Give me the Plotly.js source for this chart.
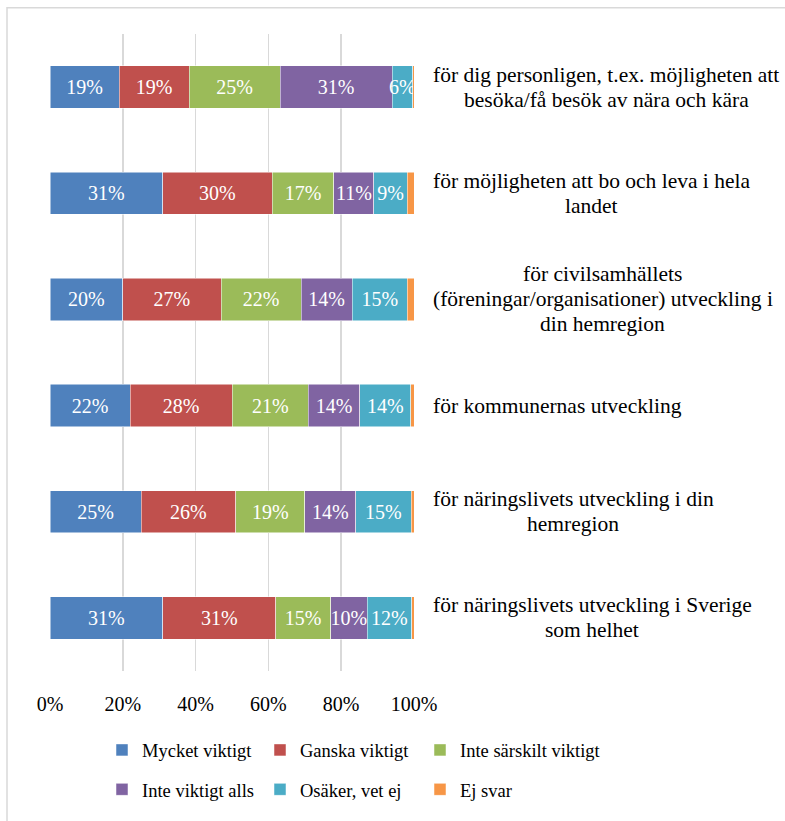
<!DOCTYPE html>
<html>
<head>
<meta charset="utf-8">
<script src="https://cdn.plot.ly/plotly-3.0.1.min.js"></script>
<style>html,body{margin:0;padding:0;background:#fff;}#chart{width:785px;height:821px;}</style>
</head>
<body>
<div id="chart"></div>
<script>
var categoryLines = [
  ["för dig personligen, t.ex. möjligheten att", "besöka/få besök av nära och kära"],
  ["för möjligheten att bo och leva i hela", "landet"],
  ["för civilsamhällets", "(föreningar/organisationer) utveckling i", "din hemregion"],
  ["för kommunernas utveckling"],
  ["för näringslivets utveckling i din", "hemregion"],
  ["för näringslivets utveckling i Sverige", "som helhet"]
];
var seriesNames = ["Mycket viktigt", "Ganska viktigt", "Inte särskilt viktigt", "Inte viktigt alls", "Osäker, vet ej", "Ej svar"];
var mycketViktigt     = [19.0, 31.0, 20.0, 22.0, 25.0, 31.0];
var ganskaViktigt     = [19.2, 30.0, 27.0, 28.0, 26.0, 31.0];
var inteSarskilt      = [25.0, 17.0, 22.0, 21.0, 19.0, 15.1];
var inteViktigtAlls   = [30.8, 11.0, 14.0, 14.1, 14.0, 10.0];
var osakerVetEj       = [5.6, 9.1, 15.2, 14.0, 15.2, 12.3];
var ejSvar            = [0.4, 1.9, 1.8, 0.9, 0.8, 0.6];
var xTickVals = [0, 20, 40, 60, 80, 100];
var xTickText = ["0%", "20%", "40%", "60%", "80%", "100%"];

var categories = categoryLines.map(function (l) { return l.join(" "); });
var colors = ["#4F81BD", "#C0504D", "#9BBB59", "#8064A2", "#4BACC6", "#F79646"];
var series = [mycketViktigt, ganskaViktigt, inteSarskilt, inteViktigtAlls, osakerVetEj, ejSvar];
var FONT = "Liberation Serif";
var BAR_FS = 20;
var TICK_FS = 20;
var LEGEND_FS = 18.5;
var LABEL_FS = 21.5;
var LINE_H = 25;
var legendIds = ["legend", "legend2", "legend3", "legend4", "legend5", "legend6"];
var legendLeft = [102, 260, 420, 102, 260, 420];
var legendRowY = [760, 760, 760, 800, 800, 800];

var traces = series.map(function (vals, i) {
  return {
    type: "bar",
    orientation: "h",
    name: seriesNames[i],
    x: vals,
    y: categories,
    width: 0.4,
    marker: { color: colors[i], line: { color: "#ffffff", width: 0.5 } },
    text: i < 5 ? vals.map(function (v) { return Math.round(v) + "%"; }) : null,
    textposition: i < 5 ? "inside" : "none",
    insidetextanchor: "middle",
    textangle: 0,
    constraintext: "none",
    textfont: { family: FONT, size: BAR_FS, color: "#ffffff" },
    legend: legendIds[i],
    hoverinfo: "x+name"
  };
});

var ctx = document.createElement("canvas").getContext("2d");
ctx.font = LABEL_FS + "px 'Liberation Serif'";
var annotations = [];
categoryLines.forEach(function (lines, ci) {
  var maxW = Math.max.apply(null, lines.map(function (t) { return ctx.measureText(t).width; }));
  var cx = 433 + maxW / 2;
  lines.forEach(function (t, k) {
    annotations.push({
      xref: "paper", yref: "y",
      x: (cx - 50) / 364, y: categories[ci],
      xanchor: "center", yanchor: "middle",
      yshift: ((lines.length - 1) / 2 - k) * LINE_H,
      text: t, showarrow: false,
      font: { family: FONT, size: LABEL_FS, color: "#000000" }
    });
  });
});

var layout = {
  width: 785, height: 821,
  margin: { l: 50, r: 371, t: 33.5, b: 141.5 },
  paper_bgcolor: "#ffffff", plot_bgcolor: "#ffffff",
  barmode: "stack",
  font: { family: FONT, size: TICK_FS, color: "#000000" },
  xaxis: {
    range: [0, 100], tickvals: xTickVals, ticktext: xTickText,
    showgrid: true, gridcolor: "#d9d9d9", gridwidth: 1.5,
    zeroline: false, showline: false, ticks: "",
    ticklabelstandoff: 19,
    tickfont: { family: FONT, size: TICK_FS, color: "#000000" },
    fixedrange: true
  },
  yaxis: {
    type: "category", autorange: "reversed", showticklabels: false,
    showgrid: false, zeroline: false, showline: false, ticks: "", fixedrange: true
  },
  showlegend: true,
  annotations: annotations,
  shapes: [{
    type: "rect", xref: "paper", yref: "paper", layer: "below",
    x0: (7 - 50) / 364, x1: 3, y0: -2, y1: (679.5 - 7) / 646,
    line: { color: "#d9d9d9", width: 1.5 }, fillcolor: "rgba(0,0,0,0)"
  }]
};

legendIds.forEach(function (id, i) {
  layout[id] = {
    orientation: "h",
    x: (legendLeft[i] - 50) / 364, xanchor: "left",
    y: (679.5 - legendRowY[i]) / 646, yanchor: "middle",
    font: { family: FONT, size: LEGEND_FS, color: "#000000" },
    itemclick: false, itemdoubleclick: false,
    bgcolor: "rgba(0,0,0,0)"
  };
});

Plotly.newPlot("chart", traces, layout, { displayModeBar: false, staticPlot: true });
</script>
</body>
</html>
